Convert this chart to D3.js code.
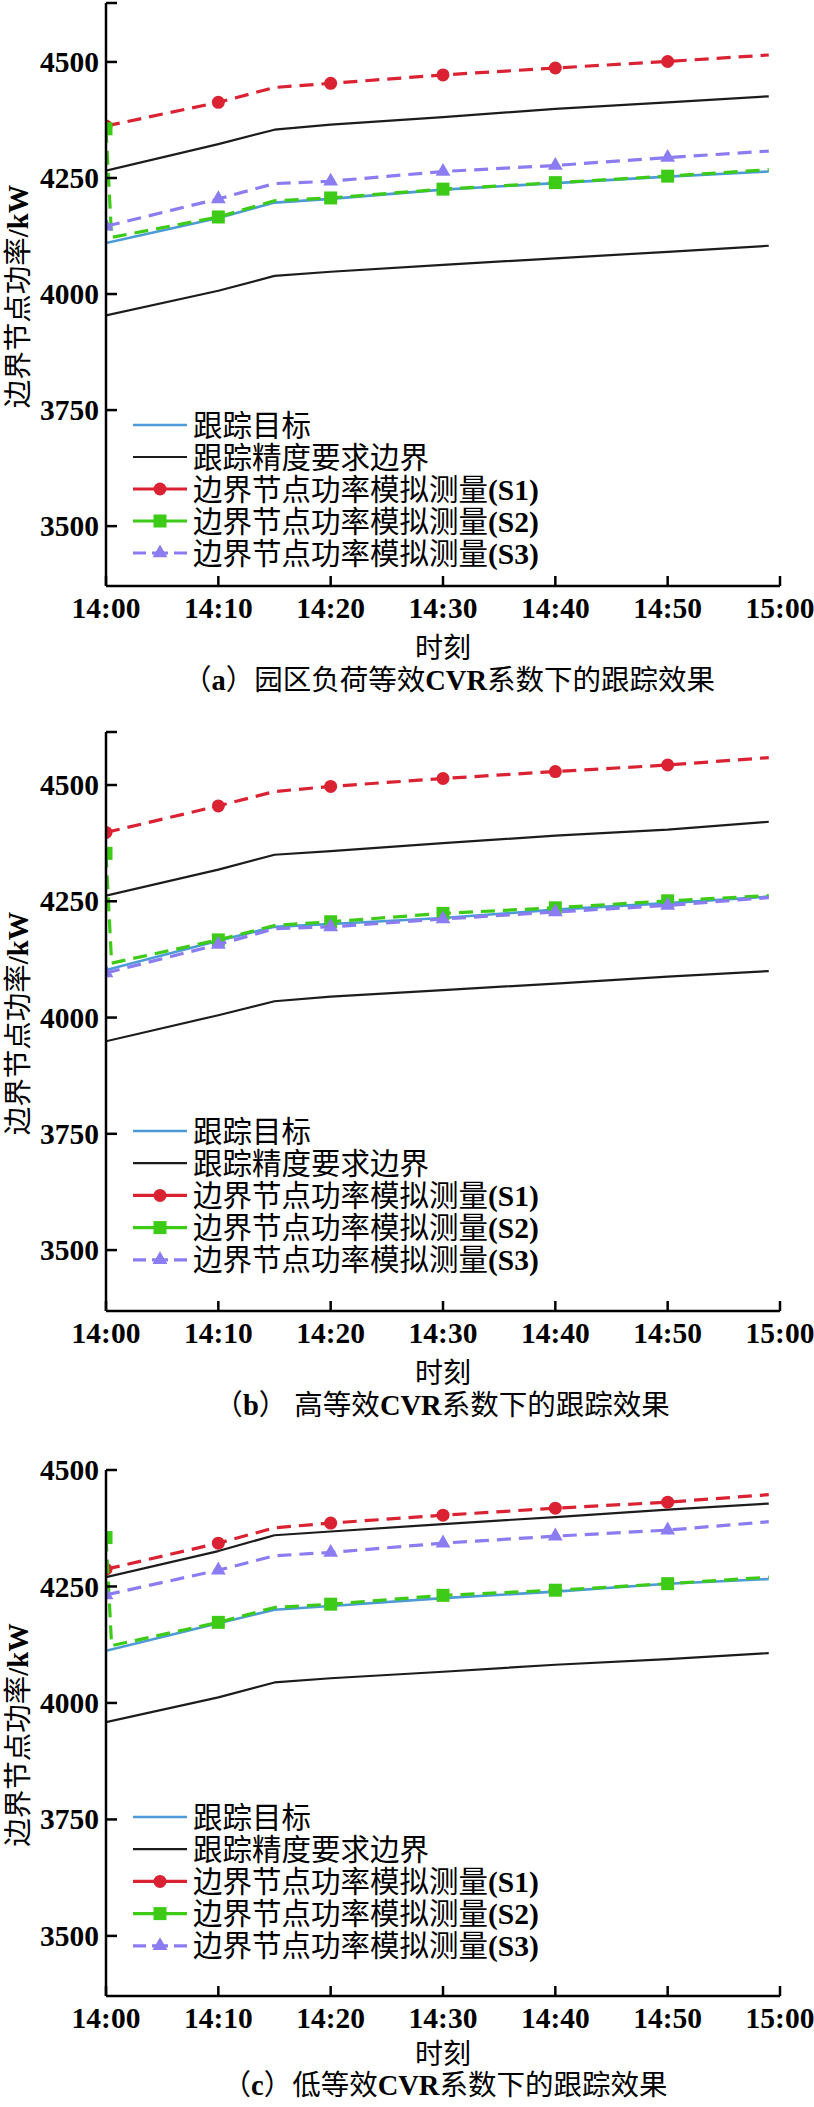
<!DOCTYPE html>
<html>
<head>
<meta charset="utf-8">
<script src="https://cdn.jsdelivr.net/npm/d3@7"></script>
<style>
  body { margin: 0; background: #fff; }
  svg { display: block; }
  text { font-family: "Liberation Serif", "Noto Sans CJK SC", serif; fill: #000; }
</style>
</head>
<body>
<div id="chart"></div>
<script>
// minutes after 14:00
const timeMin = [0, 10, 15, 20, 30, 40, 50, 59];
const timeMinS2 = [0, 0.5, 10, 15, 20, 30, 40, 50, 59];

const tickMin = [0, 10, 20, 30, 40, 50, 60];
const tickLabels = ["14:00", "14:10", "14:20", "14:30", "14:40", "14:50", "15:00"];
const yTicks = [3500, 3750, 4000, 4250, 4500];

// (a)
const targetA = [4110, 4164, 4197, 4205, 4225, 4239, 4253, 4264];
const upperA = [4266, 4323, 4354, 4365, 4381, 4399, 4413, 4426];
const lowerA = [3954, 4007, 4039, 4048, 4063, 4077, 4091, 4104];
const s1A = [4362, 4413, 4445, 4454, 4472, 4487, 4501, 4515];
const s2A = [4356, 4122, 4166, 4201, 4207, 4226, 4240, 4254, 4268];
const s3A = [4146, 4205, 4238, 4243, 4264, 4277, 4294, 4308];

// (b)
const targetB = [4102, 4165, 4195, 4201, 4214, 4232, 4246, 4260];
const upperB = [4262, 4318, 4350, 4358, 4375, 4391, 4404, 4421];
const lowerB = [3949, 4005, 4035, 4045, 4059, 4073, 4088, 4100];
const s1B = [4398, 4455, 4486, 4497, 4514, 4529, 4543, 4559];
const s2B = [4353, 4117, 4167, 4198, 4206, 4224, 4236, 4251, 4262];
const s3B = [4096, 4157, 4191, 4195, 4212, 4227, 4241, 4258];

// (c)
const targetC = [4112, 4171, 4200, 4208, 4225, 4239, 4256, 4266];
const upperC = [4270, 4326, 4360, 4368, 4384, 4399, 4415, 4428];
const lowerC = [3959, 4012, 4044, 4053, 4067, 4082, 4094, 4107];
const s1C = [4287, 4343, 4376, 4386, 4403, 4418, 4431, 4447];
const s2C = [4355, 4123, 4173, 4205, 4212, 4231, 4242, 4256, 4270];
const s3C = [4232, 4285, 4316, 4323, 4343, 4358, 4371, 4389];

const captionLetters = ["a", "b", "c"];
const captionTexts = ["园区负荷等效", " 高等效", "低等效"];

const legendNames = ["跟踪目标", "跟踪精度要求边界", "边界节点功率模拟测量", "边界节点功率模拟测量", "边界节点功率模拟测量"];
const legendTags = ["", "", "(S1)", "(S2)", "(S3)"];

const colors = {
  target: "#4c9ad6",
  bound: "#1c1c1c",
  s1: "#da2232",
  s2: "#3ecb17",
  s3: "#8c7cf2"
};

const panels = [
  { top: 3, bottom: 586, yDomain: [3371, 4627], topTick: true,
    legendTop: 425, legendStep: 32, tickY: 608, timeY: 648, capY: 680, capX: 449,
    target: targetA, upper: upperA, lower: lowerA, s1: s1A, s2: s2A, s3: s3A },
  { top: 732, bottom: 1311, yDomain: [3369, 4614], topTick: true,
    legendTop: 1131, legendStep: 32.2, tickY: 1333, timeY: 1373, capY: 1405, capX: 442,
    target: targetB, upper: upperB, lower: lowerB, s1: s1B, s2: s2B, s3: s3B },
  { top: 1470, bottom: 1996, yDomain: [3371, 4500], topTick: false,
    legendTop: 1817, legendStep: 32.2, tickY: 2018, timeY: 2054, capY: 2085, capX: 445,
    target: targetC, upper: upperC, lower: lowerC, s1: s1C, s2: s2C, s3: s3C }
];

const W = 814, H = 2107;
const left = 106, right = 780;
const fs = 29.5;

const svg = d3.select("#chart").append("svg")
  .attr("width", W)
  .attr("height", H);

const x = d3.scaleLinear().domain([0, 60]).range([left, right]);

function drawMarker(g, type, cx, cy, color) {
  if (type === "circle") {
    g.append("circle").attr("cx", cx).attr("cy", cy).attr("r", 6.5).attr("fill", color);
  } else if (type === "square") {
    g.append("rect").attr("x", cx - 6.5).attr("y", cy - 6.5)
      .attr("width", 13).attr("height", 13).attr("fill", color);
  } else if (type === "triangle") {
    g.append("path").attr("d", d3.symbol(d3.symbolTriangle, 95)()).attr("transform", `translate(${cx},${cy})`)
      .attr("fill", color);
  }
}

panels.forEach((p, i) => {
  const y = d3.scaleLinear().domain(p.yDomain).range([p.bottom, p.top]);
  const g = svg.append("g");

  const clipId = "clip" + i;
  svg.append("clipPath").attr("id", clipId)
    .append("rect")
    .attr("x", left).attr("y", p.top - 10)
    .attr("width", right - left + 10).attr("height", p.bottom - p.top + 10);

  const plot = g.append("g").attr("clip-path", `url(#${clipId})`);
  const line = d3.line().x(d => x(d[0])).y(d => y(d[1]));

  const series = [
    { t: timeMin, v: p.upper, color: colors.bound, w: 2.2, dash: null },
    { t: timeMin, v: p.lower, color: colors.bound, w: 2.2, dash: null },
    { t: timeMin, v: p.target, color: colors.target, w: 2.6, dash: null },
    { t: timeMin, v: p.s1, color: colors.s1, w: 3.2, dash: "14,8", marker: "circle" },
    { t: timeMinS2, v: p.s2, color: colors.s2, w: 3.2, dash: "14,8", marker: "square" },
    { t: timeMin, v: p.s3, color: colors.s3, w: 3.2, dash: "14,8", marker: "triangle" }
  ];

  series.forEach(s => {
    const pts = s.t.map((t, k) => [t, s.v[k]]);
    plot.append("path")
      .datum(pts)
      .attr("d", line)
      .attr("fill", "none")
      .attr("stroke", s.color)
      .attr("stroke-width", s.w)
      .attr("stroke-linejoin", "round")
      .attr("stroke-dasharray", s.dash);
    if (s.marker) {
      pts.filter(d => d[0] % 10 === 0).forEach(d => {
        drawMarker(plot, s.marker, x(d[0]), y(d[1]), s.color);
      });
    }
  });

  // axes
  const ax = g.append("g").attr("stroke", "#000").attr("stroke-width", 2.5);
  ax.append("line").attr("x1", left).attr("x2", left).attr("y1", p.top).attr("y2", p.bottom);
  ax.append("line").attr("x1", left).attr("x2", right).attr("y1", p.bottom).attr("y2", p.bottom);

  yTicks.forEach(v => {
    ax.append("line").attr("x1", left).attr("x2", left + 11).attr("y1", y(v)).attr("y2", y(v));
    g.append("text")
      .attr("x", left - 7).attr("y", y(v)).attr("dy", "0.34em")
      .attr("text-anchor", "end")
      .attr("font-size", fs).attr("font-weight", "bold")
      .text(v);
  });
  if (p.topTick) {
    ax.append("line").attr("x1", left).attr("x2", left + 11).attr("y1", p.top).attr("y2", p.top);
  }

  tickMin.forEach((t, k) => {
    ax.append("line").attr("x1", x(t)).attr("x2", x(t)).attr("y1", p.bottom).attr("y2", p.bottom - 10);
    g.append("text")
      .attr("x", x(t)).attr("y", p.tickY).attr("dy", "0.34em")
      .attr("text-anchor", "middle")
      .attr("font-size", fs).attr("font-weight", "bold")
      .text(tickLabels[k]);
  });

  // axis titles
  g.append("text")
    .attr("x", 443).attr("y", p.timeY).attr("dy", "0.36em")
    .attr("text-anchor", "middle").attr("font-size", 28)
    .text("时刻");

  const yl = g.append("text")
    .attr("transform", `translate(18,${(p.top + p.bottom) / 2 + 2}) rotate(-90)`)
    .attr("dy", "0.36em")
    .attr("text-anchor", "middle").attr("font-size", 28.5);
  yl.append("tspan").text("边界节点功率");
  yl.append("tspan").attr("font-weight", "bold").text("/kW");

  // caption
  const cap = g.append("text")
    .attr("x", p.capX).attr("y", p.capY).attr("dy", "0.36em")
    .attr("text-anchor", "middle").attr("font-size", 28.5);
  cap.append("tspan").text("（");
  cap.append("tspan").attr("font-weight", "bold").text(captionLetters[i]);
  cap.append("tspan").text("）" + captionTexts[i]);
  cap.append("tspan").attr("font-weight", "bold").text("CVR");
  cap.append("tspan").text("系数下的跟踪效果");

  // legend
  const legendStyle = [
    { color: colors.target, w: 2.6 },
    { color: colors.bound, w: 2.2 },
    { color: colors.s1, w: 3.2, marker: "circle" },
    { color: colors.s2, w: 3.2, marker: "square" },
    { color: colors.s3, w: 3.2, marker: "triangle", dash: true }
  ];
  legendNames.forEach((name, k) => {
    const ly = p.legendTop + k * p.legendStep;
    const st = legendStyle[k];
    g.append("line")
      .attr("x1", 133).attr("x2", 187).attr("y1", ly).attr("y2", ly)
      .attr("stroke", st.color).attr("stroke-width", st.w)
      .attr("stroke-dasharray", st.dash ? "13,6,16,6,13" : null);
    if (st.marker) drawMarker(g, st.marker, 160, ly, st.color);
    const t = g.append("text")
      .attr("x", 193).attr("y", ly).attr("dy", "0.36em")
      .attr("font-size", fs);
    t.append("tspan").text(name);
    if (legendTags[k]) t.append("tspan").attr("font-weight", "bold").text(legendTags[k]);
  });
});
</script>
</body>
</html>
